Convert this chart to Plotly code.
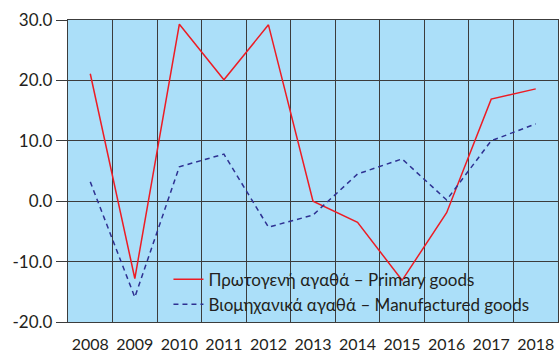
import plotly.graph_objects as go

years = ["2008", "2009", "2010", "2011", "2012", "2013", "2014", "2015", "2016", "2017", "2018"]
primary = [21.1, -12.8, 29.3, 20.1, 29.2, 0.0, -3.5, -13.1, -1.9, 16.9, 18.6]
manufactured = [3.2, -15.9, 5.7, 7.8, -4.3, -2.3, 4.5, 7.0, 0.2, 10.0, 12.8]
y_ticks = [-20, -10, 0, 10, 20, 30]

font_family = "Lato"
grid_color = "#3c3c3c"

fig = go.Figure()
fig.add_trace(go.Scatter(
    x=years, y=primary, mode="lines",
    name="Πρωτογενή αγαθά – Primary goods",
    line=dict(color="#ED1C24", width=1.5),
))
fig.add_trace(go.Scatter(
    x=years, y=manufactured, mode="lines",
    name="Βιομηχανικά αγαθά – Manufactured goods",
    line=dict(color="#2E3192", width=1.5, dash="5px,4px"),
))

fig.update_layout(
    width=559, height=355,
    margin=dict(l=68, r=1, t=20, b=33),
    paper_bgcolor="white",
    plot_bgcolor="#ABDFF9",
    font=dict(family=font_family, size=17, color="#231F20"),
    showlegend=True,
    legend=dict(
        x=0.205, y=0.2, xanchor="left", yanchor="top",
        bgcolor="rgba(0,0,0,0)", borderwidth=0,
        font=dict(size=17), tracegroupgap=0,
    ),
)
fig.update_xaxes(
    type="category", tickson="boundaries",
    showgrid=True, gridcolor=grid_color, gridwidth=1.3,
    ticks="", ticklabelstandoff=8,
    tickangle=0, tickfont=dict(size=16), automargin=False,
    showline=True, linecolor=grid_color, linewidth=1.3, mirror=True,
    range=[-0.5, 10.5], zeroline=False,
)
fig.update_yaxes(
    range=[-20, 30], tickvals=y_ticks,
    ticktext=[f"{v:.1f}" for v in y_ticks],
    showgrid=True, gridcolor=grid_color, gridwidth=1.3,
    ticks="outside", ticklen=11, tickcolor=grid_color, tickwidth=1.3,
    automargin=False,
    showline=True, linecolor=grid_color, linewidth=1.3, mirror=True,
    zeroline=False,
)

fig.write_html("out.html")
